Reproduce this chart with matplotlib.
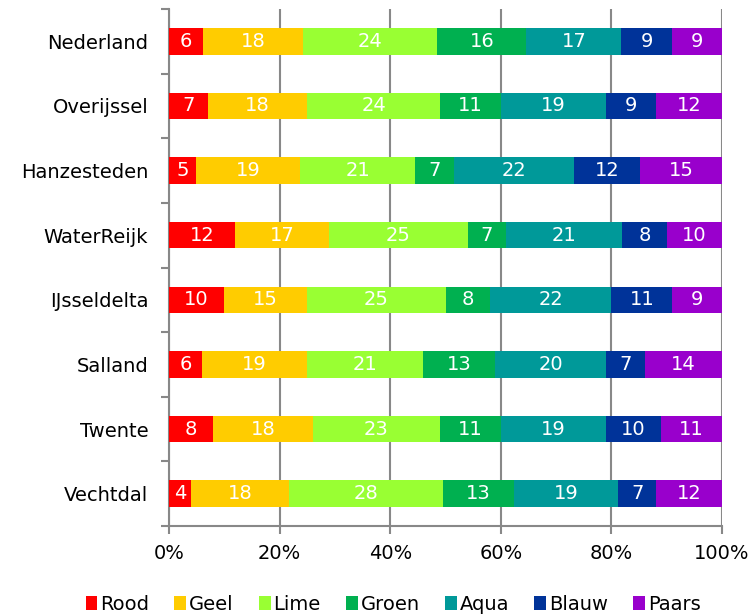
import numpy as np
import matplotlib.pyplot as plt

regios = ["Nederland", "Overijssel", "Hanzesteden", "WaterReijk",
          "IJsseldelta", "Salland", "Twente", "Vechtdal"]
series = ["Rood", "Geel", "Lime", "Groen", "Aqua", "Blauw", "Paars"]
rood = [6, 7, 5, 12, 10, 6, 8, 4]
geel = [18, 18, 19, 17, 15, 19, 18, 18]
lime = [24, 24, 21, 25, 25, 21, 23, 28]
groen = [16, 11, 7, 7, 8, 13, 11, 13]
aqua = [17, 19, 22, 21, 22, 20, 19, 19]
blauw = [9, 9, 12, 8, 11, 7, 10, 7]
paars = [9, 12, 15, 10, 9, 14, 11, 12]

kleuren = ["#FF0000", "#FFCC00", "#99FF33", "#00B050", "#009999", "#003399", "#9900CC"]

data = np.array([rood, geel, lime, groen, aqua, blauw, paars], dtype=float)
aandeel = data / data.sum(axis=0)

fig = plt.figure(figsize=(7.56, 6.16), dpi=100)
ax = fig.add_axes([169 / 756, 1 - 526 / 616, 553 / 756, 517 / 616])

y = np.arange(len(regios))
links = np.zeros(len(regios))
for i, naam in enumerate(series):
    ax.barh(y, aandeel[i], left=links, height=0.41, color=kleuren[i],
            label=naam, zorder=3)
    for j in range(len(regios)):
        ax.text(links[j] + aandeel[i][j] / 2, y[j], f"{data[i][j]:.0f}",
                ha="center", va="center", color="white", fontsize=14, zorder=4)
    links += aandeel[i]

ax.set_ylim(len(regios) - 0.5, -0.5)
ax.set_xlim(0, 1)
ax.set_xticks(np.arange(0, 1.01, 0.2))
ax.set_xticklabels([f"{int(v * 100)}%" for v in np.arange(0, 1.01, 0.2)])
ax.set_yticks(y)
ax.set_yticklabels(regios)
ax.set_yticks(np.arange(-0.5, len(regios), 1), minor=True)
ax.tick_params(axis="y", which="major", length=0, labelsize=14, pad=15)
ax.tick_params(axis="y", which="minor", length=6, color="#888888", width=1.5)
ax.tick_params(axis="x", length=6, color="#888888", width=1.5, labelsize=14, pad=7)
ax.xaxis.grid(True, color="#888888", linewidth=1.5, zorder=0)

for s in ["top", "right"]:
    ax.spines[s].set_visible(False)
for s in ["left", "bottom"]:
    ax.spines[s].set_color("#888888")
    ax.spines[s].set_linewidth(1.5)

fig.legend(loc="lower center", bbox_to_anchor=(0.52, -0.025), ncol=7, frameon=False,
           fontsize=14, handlelength=0.6, handleheight=0.7, handletextpad=0.15,
           columnspacing=1.3)

fig.savefig("out.png")
